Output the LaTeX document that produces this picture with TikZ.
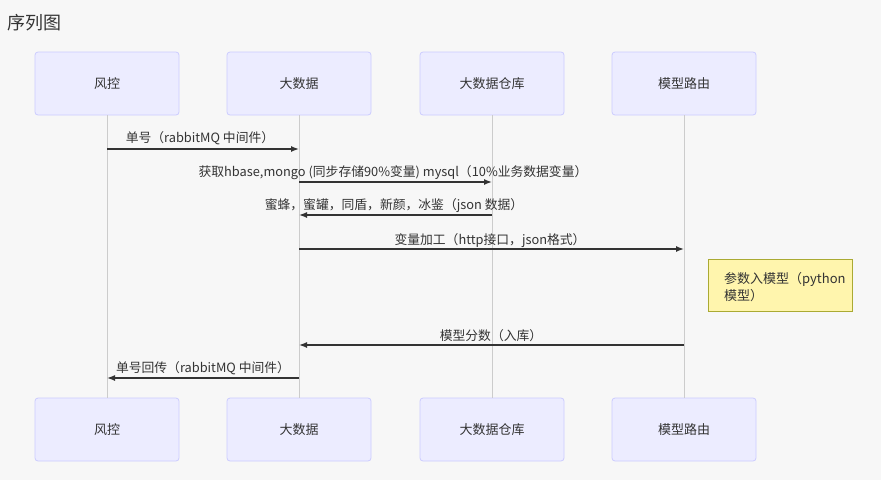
\documentclass[tikz,border=0pt]{standalone}
\usepackage{fontspec}
\setmainfont{Noto Sans CJK SC}
\usetikzlibrary{arrows.meta}
\definecolor{bg}{HTML}{F7F7F7}
\definecolor{actorfill}{HTML}{ECECFF}
\definecolor{actorline}{HTML}{CCCCFF}
\definecolor{txt}{HTML}{333333}
\definecolor{lifeline}{HTML}{CCCCCC}
\definecolor{notefill}{HTML}{FFF5AD}
\definecolor{noteline}{HTML}{AAAA33}
\tikzset{
  actor/.style={draw=actorline, fill=actorfill, rounded corners=3pt, line width=0.8pt,
    minimum width=144pt, minimum height=63pt, inner sep=0pt, text=txt,
    font=\fontsize{13}{15}\selectfont},
  life/.style={draw=lifeline, line width=1pt},
  msg/.style={draw=txt, line width=1.4pt, -{Latex[length=8pt,width=6pt]}},
  msglabel/.style={text=txt, font=\fontsize{12.8}{15}\selectfont, inner sep=0pt},
  notebox/.style={draw=noteline, fill=notefill, line width=0.8pt,
    minimum width=144pt, minimum height=52pt, inner sep=0pt, text=txt,
    font=\fontsize{13}{17}\selectfont},
}
\begin{document}
\begin{tikzpicture}[x=1pt, y=-1pt]
  \fill[bg] (0,0) rectangle (881,480);
  \useasboundingbox (0,0) rectangle (881,480);

  % title
  \node[anchor=west, text=txt, font=\fontsize{18}{20}\selectfont, inner sep=0pt] (title) at (7,23) {序列图};

  % participants, top row
  \node[actor] (rkTop) at (107,83.5) {风控};
  \node[actor] (bdTop) at (299,83.5) {大数据};
  \node[actor] (whTop) at (492,83.5) {大数据仓库};
  \node[actor] (mrTop) at (684,83.5) {模型路由};
  % participants, bottom row
  \node[actor] (rkBot) at (107,429.5) {风控};
  \node[actor] (bdBot) at (299,429.5) {大数据};
  \node[actor] (whBot) at (492,429.5) {大数据仓库};
  \node[actor] (mrBot) at (684,429.5) {模型路由};

  % lifelines
  \draw[life] (rkTop.south) -- (rkBot.north);
  \draw[life] (bdTop.south) -- (bdBot.north);
  \draw[life] (whTop.south) -- (whBot.north);
  \draw[life] (mrTop.south) -- (mrBot.north);

  % message anchor points on the lifelines
  \coordinate (rk1) at (107,149);  \coordinate (bd1) at (299,149);
  \coordinate (bd2) at (299,182);  \coordinate (wh2) at (492,182);
  \coordinate (wh3) at (492,215);  \coordinate (bd3) at (299,215);
  \coordinate (bd4) at (299,249);  \coordinate (mr4) at (684,249);
  \coordinate (mr6) at (684,345);  \coordinate (bd6) at (299,345);
  \coordinate (bd7) at (299,378);  \coordinate (rk7) at (107,378);

  % messages
  \draw[msg] (rk1) -- (bd1);
  \node[msglabel] (l1) at (200,138.5) {单号（rabbitMQ 中间件）};
  \draw[msg] (bd2) -- (wh2);
  \node[msglabel] (l2) at (393,172.5) {获取hbase,mongo (同步存储90\%变量) mysql（10\%业务数据变量）};
  \draw[msg] (wh3) -- (bd3);
  \node[msglabel] (l3) at (394,205.5) {蜜蜂，蜜罐，同盾，新颜，冰鉴（json 数据）};
  \draw[msg] (bd4) -- (mr4);
  \node[msglabel] (l4) at (490,240.5) {变量加工（http接口，json格式）};
  \draw[msg] (mr6) -- (bd6);
  \node[msglabel] (l6) at (491,335.5) {模型分数（入库）};
  \draw[msg] (bd7) -- (rk7);
  \node[msglabel] (l7) at (203,368) {单号回传（rabbitMQ 中间件）};

  % note beside the model router
  \node[notebox] (note) at (780,285) {};
  \node[anchor=north west, text=txt, inner sep=0pt, align=left,
    font=\fontsize{13}{17}\selectfont] (notetext) at (724,272)
    {参数入模型（python\\模型）};
\end{tikzpicture}
\end{document}
